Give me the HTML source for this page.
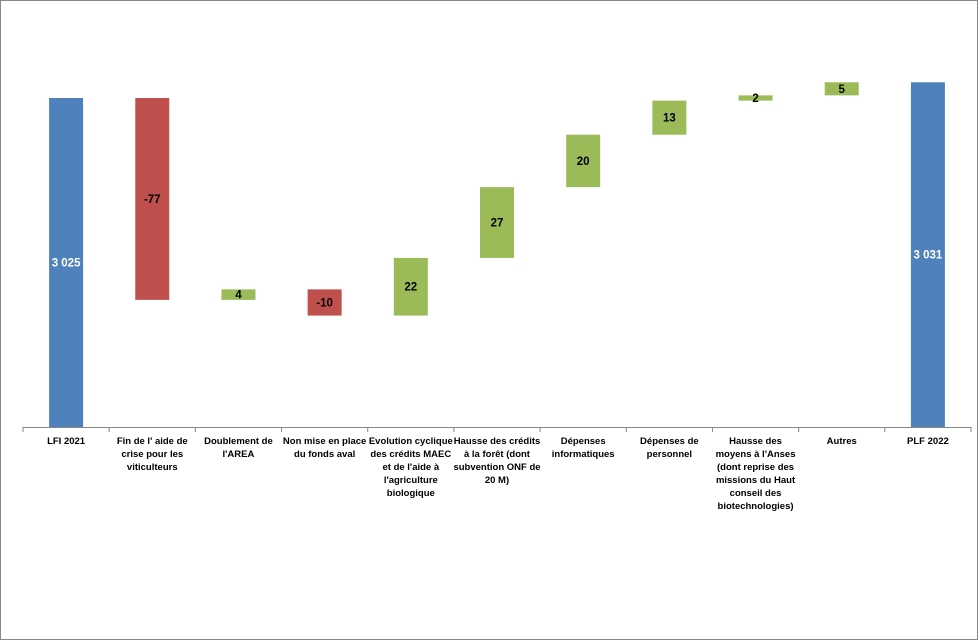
<!DOCTYPE html>
<html><head><meta charset="utf-8"><style>
body{margin:0;background:#fff;}
#wrap{position:relative;width:978px;height:640px;overflow:hidden;}
svg{position:absolute;left:0;top:0;font-family:"Liberation Sans",sans-serif;}
</style></head><body>
<div id="wrap">
<svg id="chart" width="978" height="640"></svg>
</div>
<script>
const categories=[["LFI 2021"],["Fin de l' aide de","crise pour les","viticulteurs"],["Doublement de","l'AREA"],["Non mise en place","du fonds aval"],["Evolution cyclique","des crédits MAEC","et de l'aide à","l'agriculture","biologique"],["Hausse des crédits","à la forêt (dont","subvention ONF de","20 M)"],["Dépenses","informatiques"],["Dépenses de","personnel"],["Hausse des","moyens à l'Anses","(dont reprise des","missions du Haut","conseil des","biotechnologies)"],["Autres"],["PLF 2022"]];
const values=[3025,-77,4,-10,22,27,20,13,2,5,3031];
const valueLabels=["3 025","-77","4","-10","22","27","20","13","2","5","3 031"];
const types=["total","delta","delta","delta","delta","delta","delta","delta","delta","delta","total"];

const NS="http://www.w3.org/2000/svg";
const svg=document.getElementById('chart');
const x0=23,x1=971,base=427,yMin=2899.5,scale=329/125.5;
const band=(x1-x0)/categories.length;
function y(v){return base-(v-yMin)*scale;}
function xc(i){return x0+band*(i+0.5);}
function mk(t,a){const e=document.createElementNS(NS,t);for(const k in a)e.setAttribute(k,a[k]);svg.appendChild(e);return e;}

const border=mk('rect',{x:0.5,y:0.5,width:977,height:639,fill:'none',stroke:'#888'});



let cum=0;
values.forEach((v,i)=>{
  let a,b,col;
  if(types[i]==='total'){a=yMin;b=v;cum=v;col='#4f81bd';}
  else{a=cum;b=cum+v;cum=b;col=v<0?'#c0504d':'#9bbb59';}
  const top=y(Math.max(a,b)),bot=y(Math.min(a,b));
  const r=mk('rect',{x:xc(i)-17,y:top,width:34,height:Math.max(bot-top,1),fill:col});
  
  
  const t=mk('text',{x:xc(i),y:(top+bot)/2+4,'text-anchor':'middle','font-size':'11.5','font-weight':'bold',fill:types[i]==='total'?'#fff':'#000'});
  t.textContent=valueLabels[i];
  
  
});

const ax=mk('line',{x1:x0,y1:base+0.5,x2:x1,y2:base+0.5,stroke:'#868686'});


for(let i=0;i<=categories.length;i++){
  const tk=mk('line',{x1:x0+band*i,y1:base,x2:x0+band*i,y2:base+5,stroke:'#868686'});
  
  
}
categories.forEach((lines,i)=>{
  const t=mk('text',{x:xc(i),y:444,'text-anchor':'middle','font-size':'9.5','font-weight':'bold',fill:'#000'});
  
  
  lines.forEach((s,j)=>{const ts=document.createElementNS(NS,'tspan');ts.setAttribute('x',xc(i));ts.setAttribute('dy',j?13:0);ts.textContent=s;t.appendChild(ts);});
});
</script>
</body></html>
